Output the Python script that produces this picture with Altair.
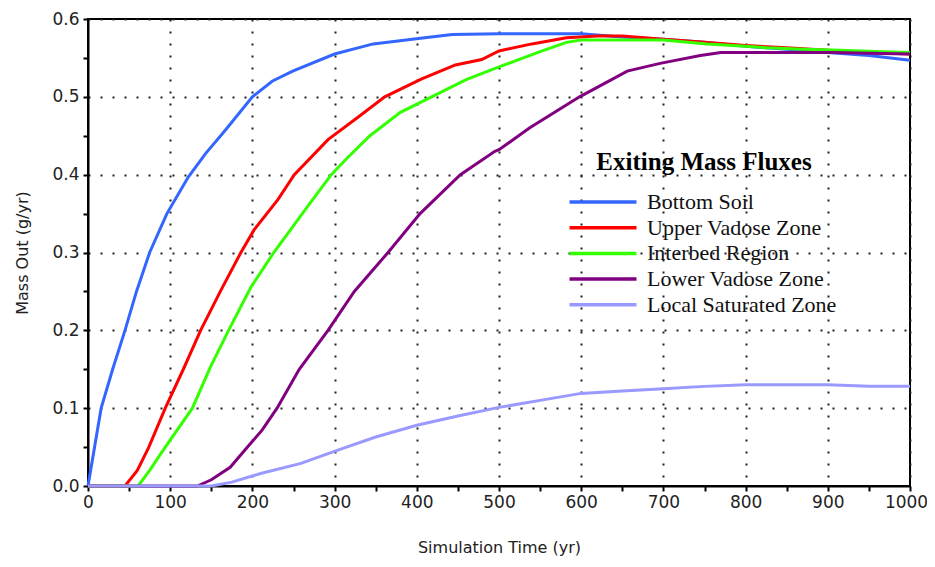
import altair as alt
import pandas as pd

series_names = ["Bottom Soil", "Upper Vadose Zone", "Interbed Region",
                "Lower Vadose Zone", "Local Saturated Zone"]
series_colors = ["#3366ff", "#ff0000", "#33ff00", "#800080", "#9999ff"]

blue_t = [0, 8, 16, 30, 45, 59, 75, 96, 122, 143, 167, 200, 224, 249, 300, 347,
          402, 443, 500, 600, 650, 700, 750, 800, 850, 900, 950, 1000]
blue_y = [0, 0.05, 0.1, 0.15, 0.2, 0.25, 0.3, 0.35, 0.397, 0.427, 0.457, 0.5,
          0.52, 0.533, 0.555, 0.568, 0.575, 0.58, 0.581, 0.581, 0.577, 0.574,
          0.57, 0.565, 0.561, 0.557, 0.553, 0.547]

red_t = [0, 45, 60, 74, 94, 116, 137, 161, 186, 202, 231, 251, 292, 330, 361,
         406, 447, 479, 500, 540, 582, 620, 650, 700, 750, 800, 850, 900, 950,
         1000]
red_y = [0, 0, 0.02, 0.05, 0.1, 0.15, 0.2, 0.25, 0.3, 0.329, 0.368, 0.4, 0.445,
         0.475, 0.5, 0.523, 0.541, 0.548, 0.559, 0.568, 0.576, 0.578, 0.578,
         0.574, 0.57, 0.566, 0.563, 0.56, 0.557, 0.555]

green_t = [0, 61, 75, 94, 127, 149, 171, 198, 226, 267, 296, 316, 343, 380,
           418, 460, 504, 550, 582, 600, 650, 700, 753, 800, 826, 870, 915,
           967, 1000]
green_y = [0, 0, 0.02, 0.05, 0.1, 0.153, 0.2, 0.255, 0.3, 0.359, 0.4, 0.422,
           0.45, 0.48, 0.5, 0.522, 0.54, 0.558, 0.57, 0.573, 0.573, 0.573,
           0.568, 0.565, 0.563, 0.561, 0.56, 0.558, 0.557]

purple_t = [0, 133, 150, 173, 194, 212, 230, 257, 292, 324, 365, 404, 453, 495,
            500, 537, 598, 656, 696, 745, 770, 850, 906, 950, 1000]
purple_y = [0, 0, 0.008, 0.024, 0.05, 0.072, 0.1, 0.15, 0.2, 0.25, 0.3, 0.35,
            0.4, 0.43, 0.432, 0.46, 0.5, 0.533, 0.543, 0.553, 0.557, 0.557,
            0.557, 0.556, 0.555]

sat_t = [0, 150, 175, 210, 259, 304, 350, 400, 450, 500, 550, 600, 650, 700,
         750, 800, 850, 900, 950, 1000]
sat_y = [0, 0, 0.005, 0.016, 0.029, 0.046, 0.063, 0.078, 0.09, 0.101, 0.11,
         0.119, 0.122, 0.125, 0.128, 0.13, 0.13, 0.13, 0.128, 0.128]

x_ticks = list(range(0, 1001, 50))
y_ticks = [round(i * 0.05, 2) for i in range(13)]

rows = []
for name, ts, ys in zip(series_names,
                        [blue_t, red_t, green_t, purple_t, sat_t],
                        [blue_y, red_y, green_y, purple_y, sat_y]):
    for i, (t, y) in enumerate(zip(ts, ys)):
        rows.append({"series": name, "t": t, "y": y, "i": i})
df = pd.DataFrame(rows)

chart = alt.Chart(df).mark_line(strokeWidth=3).encode(
    x=alt.X("t:Q", scale=alt.Scale(domain=[0, 1000], nice=False),
            axis=alt.Axis(title="Simulation Time (yr)", values=x_ticks, format="d",
                          labelExpr="datum.value % 100 === 0 ? datum.label : ''",
                          labelFlush=False,
                          labelOffset={"condition": {"test": "datum.value === 1000", "value": -4}, "value": 0},
                          gridOpacity={"condition": {"test": "datum.value % 100 !== 0 || datum.value === 0", "value": 0}, "value": 1},
                          titlePadding=29, labelPadding=3)),
    y=alt.Y("y:Q", scale=alt.Scale(domain=[0, 0.6], nice=False),
            axis=alt.Axis(title="Mass Out (g/yr)", values=y_ticks, format=".1f",
                          labelExpr="abs(datum.value*10 - round(datum.value*10)) < 0.001 ? format(datum.value, '.1f') : ''",
                          labelFlush=False,
                          gridOpacity={"condition": {"test": "abs(datum.value*10 - round(datum.value*10)) > 0.001 || datum.value === 0", "value": 0}, "value": 1},
                          titlePadding=21, labelPadding=4)),
    color=alt.Color("series:N", scale=alt.Scale(domain=series_names, range=series_colors),
                    legend=alt.Legend(title="Exiting Mass Fluxes", orient="none",
                                      legendX=483, legendY=131,
                                      symbolType="M-6.7,0H6.7", symbolSize=100,
                                      symbolStrokeWidth=3.5, symbolOffset=21,
                                      labelOffset=33, titleLimit=500,
                                      titleAnchor="middle", titlePadding=16,
                                      rowPadding=3.7)),
    order=alt.Order("i:Q"),
).properties(
    width=822, height=467,
    padding={"left": 80, "top": 11, "right": 17, "bottom": 73},
    autosize=alt.AutoSizeParams(type="none"),
).configure_view(
    stroke="black", strokeWidth=2
).configure_axis(
    domainColor="black", domainWidth=2, tickColor="black", tickWidth=2, tickSize=5,
    gridColor="#222", gridDash=[2, 10], gridWidth=2,
    labelFont="DejaVu Sans", labelFontSize=17, labelColor="#222",
    titleFont="DejaVu Sans", titleFontSize=16, titleFontWeight="normal", titleColor="#222",
).configure_legend(
    titleFont="Liberation Serif", titleFontSize=25, titleFontWeight="bold", titleColor="black",
    labelFont="Liberation Serif", labelFontSize=22, labelColor="#111",
    labelLimit=400,
)

chart.save("out.html", embed_options={"renderer": "svg", "actions": False})
